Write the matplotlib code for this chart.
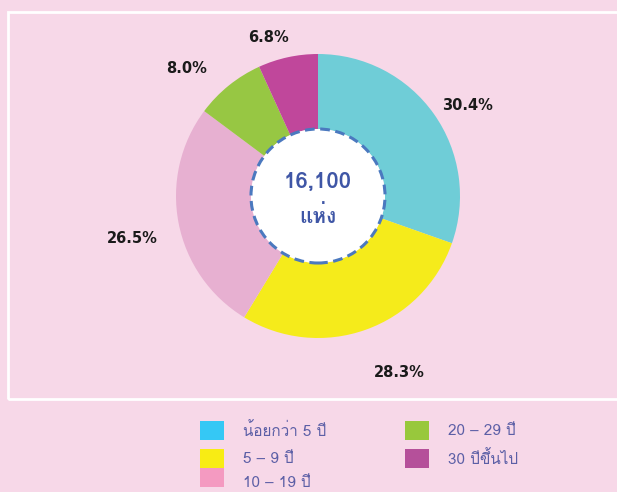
import matplotlib
matplotlib.use("Agg")
import matplotlib.pyplot as plt
import numpy as np
from matplotlib.patches import Rectangle, Circle
from matplotlib import font_manager

# ---- data ----
categories = ["น้อยกว่า 5 ปี", "5 – 9 ปี", "10 – 19 ปี", "20 – 29 ปี", "30 ปีขึ้นไป"]
values = [30.4, 28.3, 26.5, 8.0, 6.8]
pct_labels = ["30.4%", "28.3%", "26.5%", "8.0%", "6.8%"]
total_label = "16,100"
unit_label = "แห่ง"

wedge_colors = ["#6FCDD7", "#F5EB1B", "#E7B0D1", "#97C743", "#C0479B"]
legend_colors = ["#35C8F5", "#F8EC14", "#F49AC1", "#98C83C", "#B5509A"]

thai_fonts = [f.name for f in font_manager.fontManager.ttflist if "Thai" in f.name or "Loma" in f.name or "Garuda" in f.name or "Sarabun" in f.name]
fam = list(dict.fromkeys(thai_fonts)) + ["Noto Sans", "DejaVu Sans"]

W, H = 617, 492
fig = plt.figure(figsize=(W / 100, H / 100), dpi=100)
bg = "#F7D8E8"
fig.patch.set_facecolor(bg)

# white frame
fig.add_artist(Rectangle((8 / W, 1 - 399 / H), 1.2, (399 - 12) / H, transform=fig.transFigure,
                         fill=False, edgecolor="white", linewidth=2))

cx, cy, R = 318, 196, 142
lim = 1.4
side = R * lim * 2
ax = fig.add_axes([(cx - side / 2) / W, (H - cy - side / 2) / H, side / W, side / H])

inner = 0.472
wedges, _ = ax.pie(values, colors=wedge_colors, startangle=90, counterclock=False,
                   radius=1.0, wedgeprops=dict(width=1 - inner, linewidth=0))
ax.set_xlim(-lim, lim)
ax.set_ylim(-lim, lim)
ax.set_aspect("equal")
ax.axis("off")

ax.add_patch(Circle((0, 0), inner, facecolor="white", edgecolor="#4B79BF",
                    linewidth=2.2, linestyle=(0, (3.2, 1.8)), zorder=5))

dists = [1.23, 1.37, 1.34, 1.29, 1.17]
dang = [-4, 5, 2, 7, 5]
for w, lab, d, da in zip(wedges, pct_labels, dists, dang):
    ang = np.deg2rad((w.theta1 + w.theta2) / 2 + da)
    ax.text(d * np.cos(ang), d * np.sin(ang), lab, ha="center", va="center",
            fontsize=10.5, fontweight="bold", color="#1a1a1a")

ax.text(0, 0.10, total_label, ha="center", va="center", fontsize=16, color="#3F56A6",
        fontweight="semibold", family=fam, zorder=6)
ax.text(0, -0.14, unit_label, ha="center", va="center", fontsize=15, color="#3F56A6",
        fontweight="bold", family=fam, zorder=6)

# legend
txt_color = "#5C5FA6"
items = [(200, 421, 0), (200, 449, 1), (200, 468, 2), (405, 421, 3), (405, 449, 4)]
text_y = [431, 459, 483, 431, 459]
for (x, y, i), ty in zip(items, text_y):
    fig.add_artist(Rectangle((x / W, 1 - (y + 19) / H), 24 / W, 19 / H, transform=fig.transFigure,
                             facecolor=legend_colors[i], edgecolor="none"))
    fig.text((x + 43) / W, 1 - ty / H, categories[i], ha="left", va="center",
             fontsize=11, color=txt_color, family=fam)

fig.savefig("out.png", dpi=100, facecolor=bg)
